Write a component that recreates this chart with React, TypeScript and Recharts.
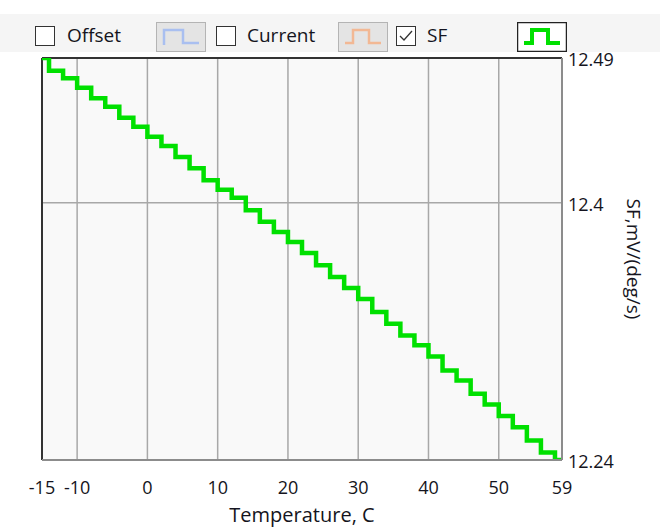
import React from "react";
import {
  LineChart,
  Line,
  XAxis,
  YAxis,
  CartesianGrid,
  ReferenceLine,
} from "recharts";

// temperature, C (each point starts a step)
const temps = [
  -15, -14, -12, -10, -8, -6, -4, -2, 0, 2, 4, 6, 8, 10, 12, 14, 16, 18, 20,
  22, 24, 26, 28, 30, 32, 34, 36, 38, 40, 42, 44, 46, 48, 50, 52, 54, 56, 58,
  59,
];

// SF, mV/(deg/s)
const sfValues = [
  12.49, 12.482, 12.4774, 12.4715, 12.4649, 12.4597, 12.4528, 12.4472, 12.441,
  12.4352, 12.4285, 12.4215, 12.414, 12.4081, 12.4031, 12.3953, 12.3881,
  12.3818, 12.3756, 12.3688, 12.3611, 12.3538, 12.3469, 12.3401, 12.332,
  12.3248, 12.3175, 12.3113, 12.3044, 12.2957, 12.2895, 12.2812, 12.2745,
  12.2674, 12.2604, 12.2521, 12.2446, 12.24, 12.24,
];

const xTicks = [-15, -10, 0, 10, 20, 30, 40, 50, 59];
const yTicks = [12.24, 12.4, 12.49];

const legendItems = [
  { label: "Offset", checked: false, color: "#a9bff0", active: false },
  { label: "Current", checked: false, color: "#f2b894", active: false },
  { label: "SF", checked: true, color: "#00e000", active: true },
];

const data = temps.map((t, i) => ({ t, sf: sfValues[i] }));

const FONT = "'Open Sans', 'Noto Sans', sans-serif";
const TEXT = "#141420";

function CheckBox({ checked }: { checked: boolean }) {
  return (
    <svg width={20} height={20} style={{ display: "block" }}>
      <rect x={0.5} y={0.5} width={19} height={19} fill="#fff" stroke="#333" />
      {checked && (
        <polyline
          points="4,10 8,14 16,5"
          fill="none"
          stroke="#333"
          strokeWidth={1.3}
        />
      )}
    </svg>
  );
}

function StyleButton({ color, active, idx }: { color: string; active: boolean; idx: number }) {
  // little step glyph like the original toolbar
  const path =
    idx === 0
      ? "M8,23 L8,8 L27,8 L27,21 L43,21"
      : "M7,21 L15,21 L15,8 L31,8 L31,21 L43,21";
  return (
    <svg width={50} height={30} style={{ display: "block" }}>
      <rect
        x={0.5}
        y={0.5}
        width={49}
        height={29}
        fill={active ? "#fff" : "#e4e4e4"}
        stroke={active ? "#222" : "#b4b4b4"}
        strokeWidth={active ? 1.5 : 1}
      />
      <path
        d={path}
        fill="none"
        stroke={color}
        strokeWidth={active ? 4 : 2.5}
        strokeLinejoin="miter"
      />
    </svg>
  );
}

export default function App() {
  const labelStyle = { position: "absolute" as const, top: 22, fontSize: 19, color: TEXT, lineHeight: "26px" };
  return (
    <div
      style={{
        position: "absolute",
        left: 0,
        top: 0,
        width: 664,
        height: 528,
        background: "#fff",
        fontFamily: FONT,
        overflow: "hidden",
      }}
    >
      <div
        style={{
          position: "absolute",
          left: 0,
          top: 14,
          width: 660,
          height: 38,
          background: "#f5f5f5",
        }}
      />
      {/* toolbar legend */}
      <div style={{ position: "absolute", left: 35, top: 26 }}>
        <CheckBox checked={legendItems[0].checked} />
      </div>
      <div style={{ ...labelStyle, left: 67 }}>{legendItems[0].label}</div>
      <div style={{ position: "absolute", left: 156, top: 22 }}>
        <StyleButton color={legendItems[0].color} active={legendItems[0].active} idx={0} />
      </div>
      <div style={{ position: "absolute", left: 216, top: 26 }}>
        <CheckBox checked={legendItems[1].checked} />
      </div>
      <div style={{ ...labelStyle, left: 247 }}>{legendItems[1].label}</div>
      <div style={{ position: "absolute", left: 338, top: 22 }}>
        <StyleButton color={legendItems[1].color} active={legendItems[1].active} idx={1} />
      </div>
      <div style={{ position: "absolute", left: 396, top: 26 }}>
        <CheckBox checked={legendItems[2].checked} />
      </div>
      <div style={{ ...labelStyle, left: 427 }}>{legendItems[2].label}</div>
      <div style={{ position: "absolute", left: 517, top: 22 }}>
        <StyleButton color={legendItems[2].color} active={legendItems[2].active} idx={2} />
      </div>

      <div style={{ position: "absolute", left: 0, top: 0 }}>
        <LineChart
          width={664}
          height={528}
          data={data}
          margin={{ top: 58, right: 2, left: 42, bottom: 4 }}
        >
          <CartesianGrid
            stroke="#a8a8a8"
            strokeWidth={1.5}
            fill="#f9f9f9"
            horizontalValues={[12.4]}
            verticalValues={[-10, 0, 10, 20, 30, 40, 50]}
          />
          <XAxis
            dataKey="t"
            type="number"
            domain={[-15, 59]}
            ticks={xTicks}
            interval={0}
            axisLine={{ stroke: "#8c8c8c", strokeWidth: 2 }}
            tickLine={false}
            tickSize={0}
            tickMargin={21}
            height={64}
            tick={{ fill: TEXT, fontSize: 18, fontFamily: FONT }}
            label={{
              value: "Temperature, C",
              position: "insideBottom",
              offset: 2,
              fill: TEXT,
              fontSize: 20,
              fontFamily: FONT,
            }}
          />
          <YAxis
            orientation="right"
            type="number"
            domain={[12.24, 12.49]}
            ticks={yTicks}
            interval={0}
            allowDataOverflow
            axisLine={{ stroke: "#8c8c8c", strokeWidth: 2 }}
            tickLine={false}
            tickSize={0}
            tickMargin={6}
            width={100}
            tick={{ fill: TEXT, fontSize: 18, fontFamily: FONT, dy: 2 }}
            label={{
              value: "SF,mV/(deg/s)",
              angle: 90,
              position: "center",
              dx: 22,
              fill: TEXT,
              fontSize: 19,
              fontFamily: FONT,
            }}
          />
          <ReferenceLine x={-15} stroke="#333" strokeWidth={2} />
          <ReferenceLine y={12.49} stroke="#333" strokeWidth={2} />
          <Line
            type="stepAfter"
            dataKey="sf"
            stroke="#00e000"
            strokeWidth={4.5}
            strokeLinejoin="miter"
            dot={false}
            activeDot={false}
            isAnimationActive={false}
          />
        </LineChart>
      </div>
    </div>
  );
}
